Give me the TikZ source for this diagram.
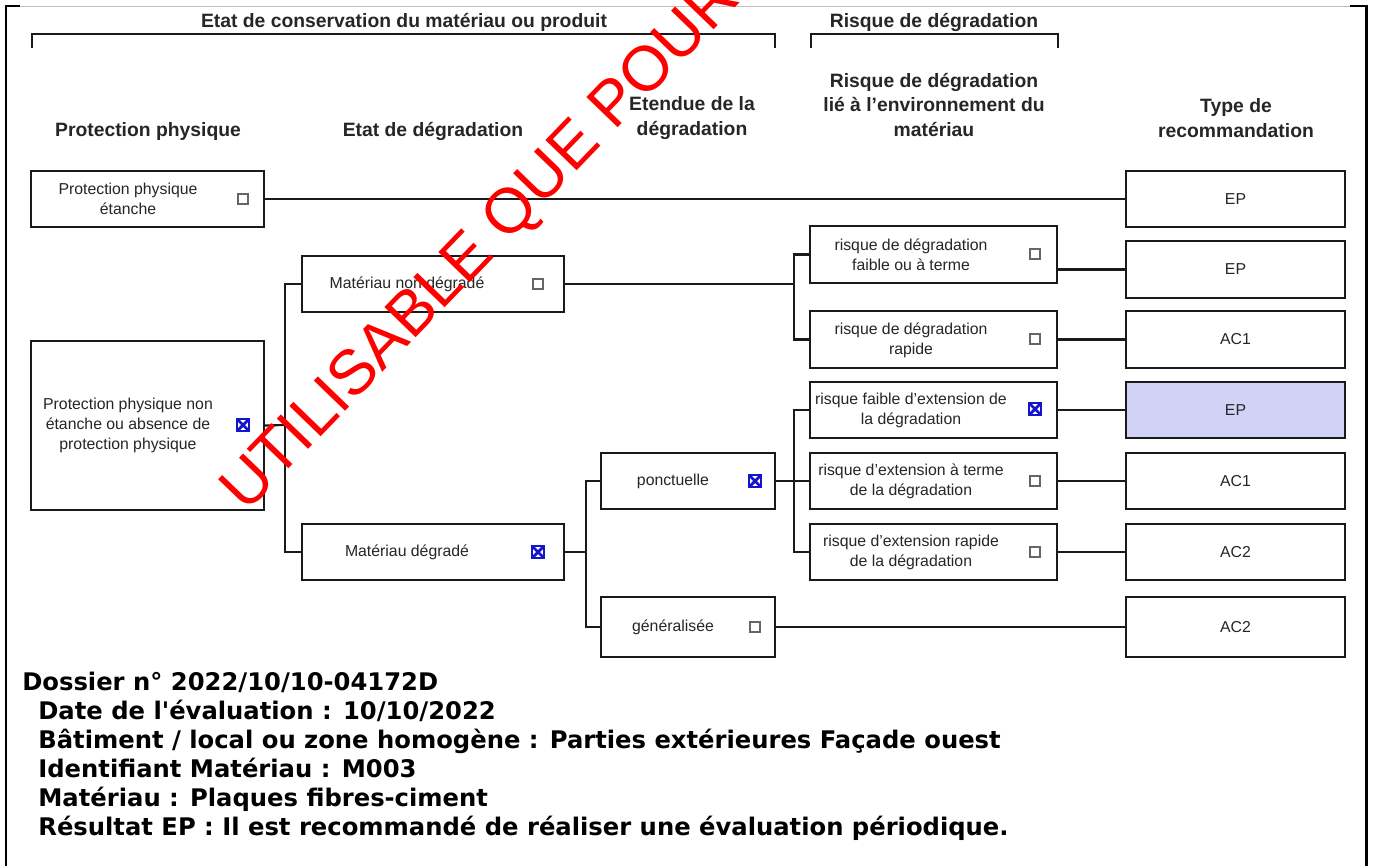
\documentclass[tikz,border=0pt]{standalone}
\usepackage{fontspec}
\setmainfont{Liberation Sans}
\newfontfamily\infofont{DejaVu Sans}
\usetikzlibrary{positioning}
\definecolor{Grid_Line}{HTML}{1A1A1A}
\definecolor{Choice_Fill}{HTML}{D2D2F7}
\definecolor{Mark_Blue}{HTML}{1414C8}
\definecolor{Stamp_Red}{HTML}{FF0000}

\tikzset{
  optbox/.style={draw=Grid_Line, line width=1.2pt, rectangle, inner sep=0pt},
  lbl/.style={font=\fontsize{9}{11.4}\selectfont, align=center, text=black!85, inner sep=0pt},
  head/.style={font=\bfseries\fontsize{11}{14.2}\selectfont, align=center, text=black!85, inner sep=0pt},
  conn/.style={draw=Grid_Line, line width=1.2pt},
  chk/.style={draw=black!60, line width=0.6pt, minimum size=0.2cm, inner sep=0pt},
  chkx/.style={draw=Mark_Blue, line width=0.8pt, minimum size=0.24cm, inner sep=0pt,
    path picture={\draw[Mark_Blue, line width=1.6pt]
      (path picture bounding box.north west) -- (path picture bounding box.south east)
      (path picture bounding box.north east) -- (path picture bounding box.south west);}},
  info/.style={anchor=base west, inner sep=0pt, font=\infofont\bfseries\fontsize{13.8}{16}\selectfont}
}

\begin{document}
\begin{tikzpicture}[x=0.02cm, y=-0.02cm]
    \useasboundingbox[fill=white] (0,0) rectangle (1375,866);

    % Frame
    \draw[black!25, line width=0.4pt] (6,6) -- (1366,6);
    \draw[black, line width=1.7pt] (20,6) -- (6,6) -- (6,866);
    \draw[black, line width=1.7pt] (1350,6) -- (1366,6) -- (1366,866);

    % Group headers
    \draw[conn] (32,48) -- (32,34) -- (775,34) -- (775,48);
    \node[head] (gcons) at (404,22) {Etat de conservation du mat\'eriau ou produit};
    \draw[conn] (811,48) -- (811,34) -- (1058,34) -- (1058,48);
    \node[head] (grisk) at (934,22) {Risque de d\'egradation};

    % Column headers
    \node[head] (hprot) at (148,131) {Protection physique};
    \node[head] (hetat) at (433,131) {Etat de d\'egradation};
    \node[head] (hext) at (692,118) {Etendue de la\\d\'egradation};
    \node[head] (henv) at (934,105) {Risque de d\'egradation\\li\'e \`a l'environnement du\\mat\'eriau};
    \node[head] (htype) at (1236,118) {Type de\\recommandation};

    % Protection physique
    \node[optbox, minimum width=4.66cm, minimum height=1.12cm] (p1) at (147.5,199) {};
    \node[lbl] (p1l) at (128,199) {Protection physique\\\'etanche};
    \node[chk] (p1c) at (243,199) {};
    \node[optbox, minimum width=4.66cm, minimum height=3.38cm] (p2) at (147.5,425.5) {};
    \node[lbl] (p2l) at (128,425) {Protection physique non\\\'etanche ou absence de\\protection physique};
    \node[chkx] (p2c) at (243,425) {};

    % Etat de degradation
    \node[optbox, minimum width=5.24cm, minimum height=1.12cm] (e1) at (433,284) {};
    \node[lbl] (e1l) at (407,284) {Mat\'eriau non d\'egrad\'e};
    \node[chk] (e1c) at (538,284) {};
    \node[optbox, minimum width=5.24cm, minimum height=1.12cm] (e2) at (433,552) {};
    \node[lbl] (e2l) at (407,552) {Mat\'eriau d\'egrad\'e};
    \node[chkx] (e2c) at (538,552) {};

    % Etendue
    \node[optbox, minimum width=3.48cm, minimum height=1.12cm] (x1) at (688,481) {};
    \node[lbl] (x1l) at (673,481) {ponctuelle};
    \node[chkx] (x1c) at (755,481) {};
    \node[optbox, minimum width=3.48cm, minimum height=1.2cm] (x2) at (688,627) {};
    \node[lbl] (x2l) at (673,627) {g\'en\'eralis\'ee};
    \node[chk] (x2c) at (755,627) {};

    % Risque environnement
    \node[optbox, minimum width=4.94cm, minimum height=1.14cm] (r1) at (933.5,254.5) {};
    \node[lbl] (r1l) at (911,255) {risque de d\'egradation\\faible ou \`a terme};
    \node[chk] (r1c) at (1035,254) {};
    \node[optbox, minimum width=4.94cm, minimum height=1.14cm] (r2) at (933.5,339.5) {};
    \node[lbl] (r2l) at (911,340) {risque de d\'egradation\\rapide};
    \node[chk] (r2c) at (1035,339) {};
    \node[optbox, minimum width=4.94cm, minimum height=1.12cm] (r3) at (933.5,410) {};
    \node[lbl] (r3l) at (911,410) {risque faible d'extension de\\la d\'egradation};
    \node[chkx] (r3c) at (1035,409) {};
    \node[optbox, minimum width=4.94cm, minimum height=1.12cm] (r4) at (933.5,481) {};
    \node[lbl] (r4l) at (911,481) {risque d'extension \`a terme\\de la d\'egradation};
    \node[chk] (r4c) at (1035,481) {};
    \node[optbox, minimum width=4.94cm, minimum height=1.12cm] (r5) at (933.5,552) {};
    \node[lbl] (r5l) at (911,552) {risque d'extension rapide\\de la d\'egradation};
    \node[chk] (r5c) at (1035,552) {};

    % Type de recommandation
    \foreach \n/\y/\h/\fc/\txt in {0/199/1.12/white/EP, 1/269.5/1.14/white/EP,
        2/339.5/1.14/white/AC1, 3/410/1.12/Choice_Fill/EP, 4/481/1.12/white/AC1,
        5/552/1.12/white/AC2, 6/627/1.2/white/AC2}
      \node[optbox, lbl, fill=\fc, minimum width=4.38cm, minimum height=\h cm] (t\n) at (1235.5,\y) {\txt};

    % Connectors
    \draw[conn] (p1.east) -- (t0.west);
    \coordinate (b1) at (285,425);
    \draw[conn] (p2.east) -- (b1);
    \draw[conn] (e1.west) -| (b1) |- (e2.west);
    \coordinate (b2) at (794,284);
    \draw[conn] (e1.east) -- (b2);
    \draw[conn] (r1.west) -| (b2) |- (r2.west);
    \coordinate (b3) at (586,552);
    \draw[conn] (e2.east) -- (b3);
    \draw[conn] (x1.west) -| (b3) |- (x2.west);
    \coordinate (b4) at (794,481);
    \draw[conn] (x1.east) -- (r4.west);
    \draw[conn] (r3.west) -| (b4) |- (r5.west);
    \draw[conn] (x2.east) -- (t6.west);
    \draw[conn] (t1.west) -- (t1.west -| r1.east);
    \draw[conn] (r2.east) -- (t2.west);
    \draw[conn] (r3.east) -- (t3.west);
    \draw[conn] (r4.east) -- (t4.west);
    \draw[conn] (r5.east) -- (t5.west);

    % Summary
    \node[info] (dossier) at (22,690) {Dossier n\textdegree{} 2022/10/10-04172D};
    \node[info] (date) at (38,719) {Date de l'\'evaluation : 10/10/2022};
    \node[info] (batiment) at (38,748) {B\^atiment / local ou zone homog\`ene : Parties ext\'erieures Fa\c{c}ade ouest};
    \node[info] (ident) at (38,777) {Identifiant Mat\'eriau : M003};
    \node[info] (materiau) at (38,806) {Mat\'eriau : Plaques fibres-ciment};
    \node[info] (resultat) at (38,835) {R\'esultat EP : Il est recommand\'e de r\'ealiser une \'evaluation p\'eriodique.};

    % Watermark
    \node[anchor=base west, rotate=46, inner sep=0pt, text=Stamp_Red,
      font=\fontsize{36}{36}\selectfont] (stamp) at (246,514) {UTILISABLE QUE POUR};
\end{tikzpicture}
\end{document}
